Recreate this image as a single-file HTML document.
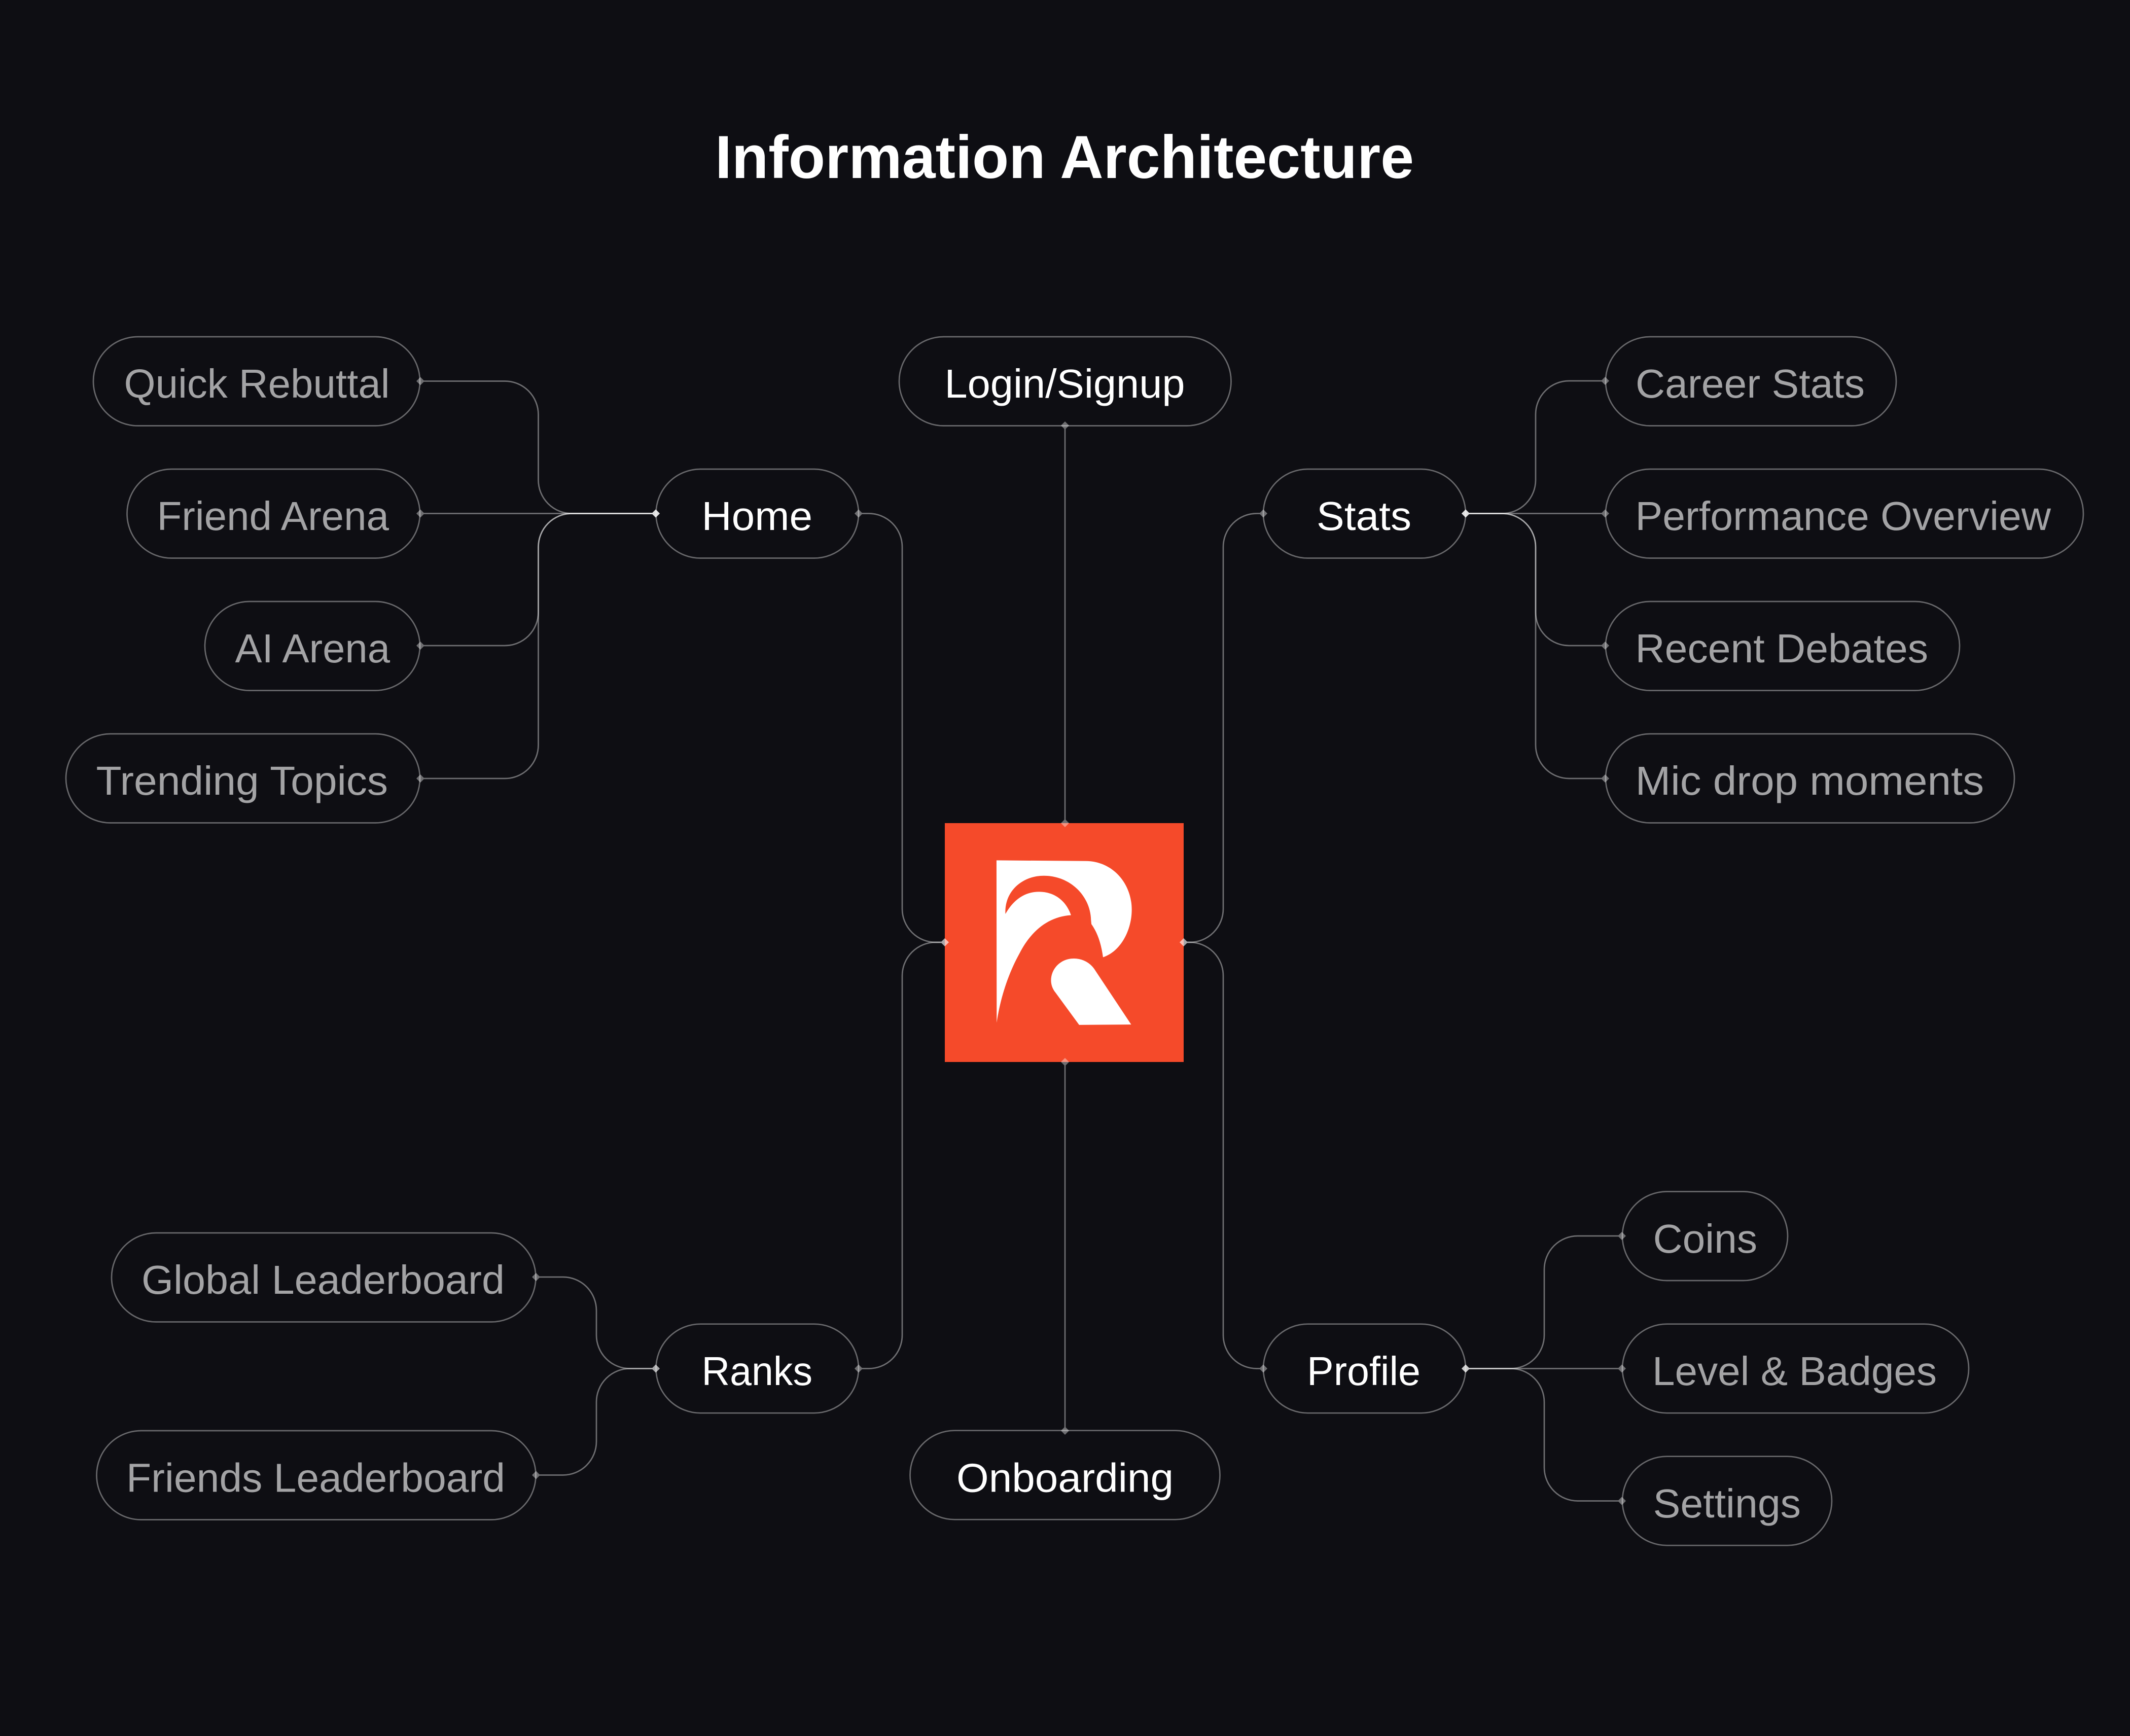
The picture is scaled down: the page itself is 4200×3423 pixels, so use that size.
<!DOCTYPE html>
<html lang="en">
<head>
<meta charset="utf-8">
<title>Information Architecture</title>
<style>
html,body{margin:0;padding:0;background:#0e0e13;}
body{width:4200px;height:3423px;overflow:hidden;}
svg{display:block;position:absolute;left:0;top:0;}
text{font-family:"Liberation Sans",sans-serif;font-size:80px;}
.t{fill:#a3a3a5;}
.w{fill:#ffffff;}
.p{fill:#0e0e13;stroke:#68686b;stroke-width:2.7;}
.l{fill:none;stroke:#fff;stroke-width:2.7;}
.d{fill:#fff;stroke:none;}
</style>
</head>
<body>
<svg xmlns="http://www.w3.org/2000/svg" width="4200" height="3423" viewBox="0 0 4200 3423">
<rect width="4200" height="3423" fill="#0e0e13"/>

<text x="1410" y="351" textLength="1378" lengthAdjust="spacingAndGlyphs" style="font-size:120px;font-weight:700" class="w">Information Architecture</text>

<!-- logo -->
<rect x="1863" y="1623" width="471" height="471" fill="#f54a2a"/>
<g transform="translate(1800 1580) scale(.38265 .34439)" fill="#fff">
<path d="M431 338 L890 342 C1030 342 1128 470 1128 620 C1128 740 1070 860 980 893 C970 810 950 750 920 703 L918 680 C915 540 810 426 675 426 C560 426 470 520 477 645 C520 560 580 518 650 518 C730 518 790 570 815 652 C700 660 610 740 550 870 C490 990 450 1130 432 1268 Z"/>
<path d="M857 1280 L1125 1278 L935 960 C910 920 870 900 830 900 C760 900 712 960 712 1025 C712 1050 720 1075 735 1095 Z"/>
</g>

<!-- pills -->
<rect class="p" x="184" y="664" width="644" height="175.500" rx="87.700"/>
<rect class="p" x="250.500" y="925" width="577.500" height="175.500" rx="87.700"/>
<rect class="p" x="404" y="1186" width="424" height="175.500" rx="87.700"/>
<rect class="p" x="130" y="1447" width="698" height="175.500" rx="87.700"/>
<rect class="p" x="1293.500" y="925" width="399.500" height="175.500" rx="87.700"/>
<rect class="p" x="1773" y="664" width="654.500" height="175.500" rx="87.700"/>
<rect class="p" x="2491" y="925" width="399" height="175.500" rx="87.700"/>
<rect class="p" x="3166" y="664" width="573" height="175.500" rx="87.700"/>
<rect class="p" x="3166" y="925" width="942" height="175.500" rx="87.700"/>
<rect class="p" x="3166" y="1186" width="698" height="175.500" rx="87.700"/>
<rect class="p" x="3166" y="1447" width="806" height="175.500" rx="87.700"/>
<rect class="p" x="220" y="2431" width="836.500" height="175.500" rx="87.700"/>
<rect class="p" x="190.500" y="2821" width="866" height="175.500" rx="87.700"/>
<rect class="p" x="1293.500" y="2610.700" width="399.500" height="175.500" rx="87.700"/>
<rect class="p" x="1794.500" y="2820.700" width="611" height="175.500" rx="87.700"/>
<rect class="p" x="2491" y="2610.700" width="399" height="175.500" rx="87.700"/>
<rect class="p" x="3199" y="2349.500" width="326" height="175.500" rx="87.700"/>
<rect class="p" x="3199" y="2610.700" width="683" height="175.500" rx="87.700"/>
<rect class="p" x="3199" y="2871.700" width="413" height="175.500" rx="87.700"/>

<!-- connectors -->
<g opacity=".4"><path class="l" d="M1293 1012.500 H1127.500 A66 66 0 0 1 1061.500 946.500 V817.500 A66 66 0 0 0 995.500 751.500 H829"/><path class="d" d="M1293 1004.500l8 8-8 8-8-8zM829 743.500l8 8-8 8-8-8z"/></g>
<g opacity=".4"><path class="l" d="M1293 1012.500 H829"/><path class="d" d="M1293 1004.500l8 8-8 8-8-8zM829 1004.500l8 8-8 8-8-8z"/></g>
<g opacity=".4"><path class="l" d="M1293 1012.500 H1127.500 A66 66 0 0 0 1061.500 1078.500 V1207 A66 66 0 0 1 995.500 1273 H829"/><path class="d" d="M1293 1004.500l8 8-8 8-8-8zM829 1265l8 8-8 8-8-8z"/></g>
<g opacity=".4"><path class="l" d="M1293 1012.500 H1127.500 A66 66 0 0 0 1061.500 1078.500 V1469 A66 66 0 0 1 995.500 1535 H829"/><path class="d" d="M1293 1004.500l8 8-8 8-8-8zM829 1527l8 8-8 8-8-8z"/></g>

<g opacity=".4"><path class="l" d="M1693 1012.500 H1713 A66 66 0 0 1 1779 1078.500 V1792 A66 66 0 0 0 1845 1858 H1863"/><path class="d" d="M1693 1004.500l8 8-8 8-8-8zM1863 1850l8 8-8 8-8-8z"/></g>
<g opacity=".4"><path class="l" d="M1693 2698.500 H1713 A66 66 0 0 0 1779 2632.500 V1924 A66 66 0 0 1 1845 1858 H1863"/><path class="d" d="M1693 2690.500l8 8-8 8-8-8zM1863 1850l8 8-8 8-8-8z"/></g>
<g opacity=".4"><path class="l" d="M2491 1012.500 H2478 A66 66 0 0 0 2412 1078.500 V1792 A66 66 0 0 1 2346 1858 H2334"/><path class="d" d="M2491 1004.500l8 8-8 8-8-8zM2334 1850l8 8-8 8-8-8z"/></g>
<g opacity=".4"><path class="l" d="M2491 2698.500 H2478 A66 66 0 0 1 2412 2632.500 V1924 A66 66 0 0 0 2346 1858 H2334"/><path class="d" d="M2491 2690.500l8 8-8 8-8-8zM2334 1850l8 8-8 8-8-8z"/></g>

<g opacity=".4"><path class="l" d="M2100 839 V1623"/><path class="d" d="M2100 831l8 8-8 8-8-8zM2100 1615l8 8-8 8-8-8z"/></g>
<g opacity=".4"><path class="l" d="M2100 2094 V2821"/><path class="d" d="M2100 2086l8 8-8 8-8-8zM2100 2813l8 8-8 8-8-8z"/></g>

<g opacity=".4"><path class="l" d="M2890 1012.500 H2962 A66 66 0 0 0 3028 946.500 V817 A66 66 0 0 1 3094 751 H3165"/><path class="d" d="M2890 1004.500l8 8-8 8-8-8zM3165 743l8 8-8 8-8-8z"/></g>
<g opacity=".4"><path class="l" d="M2890 1012.500 H3165"/><path class="d" d="M2890 1004.500l8 8-8 8-8-8zM3165 1004.500l8 8-8 8-8-8z"/></g>
<g opacity=".4"><path class="l" d="M2890 1012.500 H2962 A66 66 0 0 1 3028 1078.500 V1207 A66 66 0 0 0 3094 1273 H3165"/><path class="d" d="M2890 1004.500l8 8-8 8-8-8zM3165 1265l8 8-8 8-8-8z"/></g>
<g opacity=".4"><path class="l" d="M2890 1012.500 H2962 A66 66 0 0 1 3028 1078.500 V1469 A66 66 0 0 0 3094 1535 H3165"/><path class="d" d="M2890 1004.500l8 8-8 8-8-8zM3165 1527l8 8-8 8-8-8z"/></g>

<g opacity=".4"><path class="l" d="M1293 2698.500 H1242 A66 66 0 0 1 1176 2632.500 V2584 A66 66 0 0 0 1110 2518 H1057"/><path class="d" d="M1293 2690.500l8 8-8 8-8-8zM1057 2510l8 8-8 8-8-8z"/></g>
<g opacity=".4"><path class="l" d="M1293 2698.500 H1242 A66 66 0 0 0 1176 2764.500 V2842.500 A66 66 0 0 1 1110 2908.500 H1057"/><path class="d" d="M1293 2690.500l8 8-8 8-8-8zM1057 2900.500l8 8-8 8-8-8z"/></g>

<g opacity=".4"><path class="l" d="M2890 2698.500 H2979 A66 66 0 0 0 3045 2632.500 V2503 A66 66 0 0 1 3111 2437 H3198"/><path class="d" d="M2890 2690.500l8 8-8 8-8-8zM3198 2429l8 8-8 8-8-8z"/></g>
<g opacity=".4"><path class="l" d="M2890 2698.500 H3198"/><path class="d" d="M2890 2690.500l8 8-8 8-8-8zM3198 2690.500l8 8-8 8-8-8z"/></g>
<g opacity=".4"><path class="l" d="M2890 2698.500 H2979 A66 66 0 0 1 3045 2764.500 V2893.500 A66 66 0 0 0 3111 2959.500 H3198"/><path class="d" d="M2890 2690.500l8 8-8 8-8-8zM3198 2951.500l8 8-8 8-8-8z"/></g>

<!-- labels -->
<text class="t" x="244.500" y="784" textLength="524" lengthAdjust="spacingAndGlyphs">Quick Rebuttal</text>
<text class="t" x="309.500" y="1045" textLength="457.500" lengthAdjust="spacingAndGlyphs">Friend Arena</text>
<text class="t" x="463.500" y="1306" textLength="305.500" lengthAdjust="spacingAndGlyphs">AI Arena</text>
<text class="t" x="189.500" y="1567" textLength="575.500" lengthAdjust="spacingAndGlyphs">Trending Topics</text>
<text class="w" x="1383.500" y="1045" textLength="218.500" lengthAdjust="spacingAndGlyphs">Home</text>
<text class="w" x="1862.500" y="784" textLength="474" lengthAdjust="spacingAndGlyphs">Login/Signup</text>
<text class="w" x="2596" y="1045" textLength="187" lengthAdjust="spacingAndGlyphs">Stats</text>
<text class="t" x="3225" y="784" textLength="452" lengthAdjust="spacingAndGlyphs">Career Stats</text>
<text class="t" x="3224.500" y="1045" textLength="819.500" lengthAdjust="spacingAndGlyphs">Performance Overview</text>
<text class="t" x="3224.500" y="1306" textLength="577.500" lengthAdjust="spacingAndGlyphs">Recent Debates</text>
<text class="t" x="3224.600" y="1567" textLength="687.400" lengthAdjust="spacingAndGlyphs">Mic drop moments</text>
<text class="t" x="279" y="2551" textLength="716" lengthAdjust="spacingAndGlyphs">Global Leaderboard</text>
<text class="t" x="249" y="2941.500" textLength="747" lengthAdjust="spacingAndGlyphs">Friends Leaderboard</text>
<text class="w" x="1383.500" y="2731" textLength="218.500" lengthAdjust="spacingAndGlyphs">Ranks</text>
<text class="w" x="1886" y="2941.500" textLength="428" lengthAdjust="spacingAndGlyphs">Onboarding</text>
<text class="w" x="2577" y="2731" textLength="224" lengthAdjust="spacingAndGlyphs">Profile</text>
<text class="t" x="3259.600" y="2470" textLength="205.400" lengthAdjust="spacingAndGlyphs">Coins</text>
<text class="t" x="3258" y="2731" textLength="561" lengthAdjust="spacingAndGlyphs">Level &amp; Badges</text>
<text class="t" x="3259.600" y="2992" textLength="291.400" lengthAdjust="spacingAndGlyphs">Settings</text>
</svg>
</body>
</html>
